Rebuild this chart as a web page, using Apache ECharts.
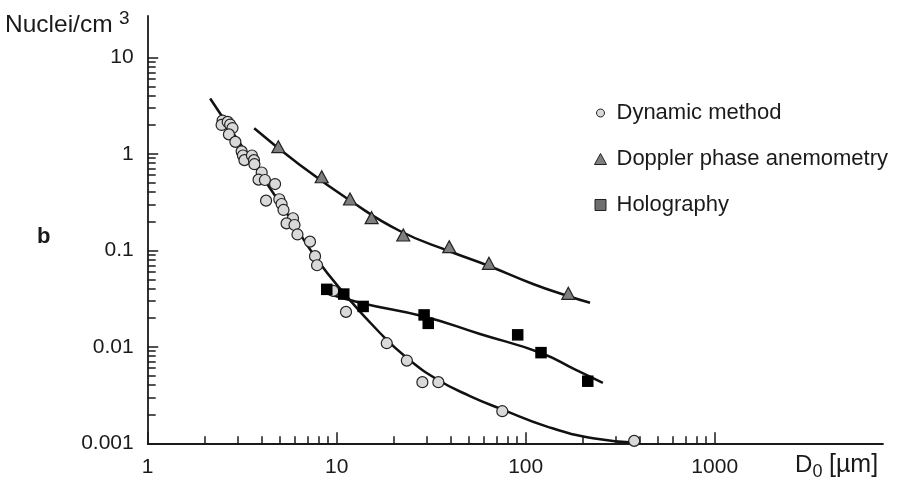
<!DOCTYPE html>
<html><head><meta charset="utf-8">
<script src="https://cdn.jsdelivr.net/npm/echarts@6/dist/echarts.min.js"></script>
<style>html,body{margin:0;padding:0;background:#fff}#c{width:907px;height:480px}</style>
</head><body><div id="c"></div>
<script>
// ---- data ----
const seriesNames = ['Dynamic method', 'Doppler phase anemometry', 'Holography'];
const dynamicPts = [[2.49,2.21],[2.46,1.99],[2.65,2.14],[2.73,2.01],[2.81,1.85],[2.69,1.59],[2.91,1.33],
  [3.14,1.06],[3.19,0.96],[3.25,0.86],[3.56,0.96],[3.65,0.86],[3.67,0.78],[4.01,0.64],[3.86,0.54],
  [4.17,0.535],[4.72,0.486],[4.23,0.327],[4.97,0.338],[5.11,0.302],[5.23,0.262],[5.87,0.215],
  [5.43,0.190],[5.98,0.183],[6.20,0.146],[7.22,0.123],[7.68,0.087],[7.87,0.070],[9.59,0.038],
  [11.2,0.023],[18.4,0.0109],[23.5,0.0072],[28.4,0.0043],[34.5,0.0043],[75.2,0.00215],[375,0.00106]];
const dopplerPts = [[4.91,1.185],[8.33,0.579],[11.76,0.340],[15.3,0.218],[22.5,0.144],[39.4,0.109],[63.9,0.0733],[168,0.0358]];
const holoPts = [[8.86,0.0394],[10.9,0.0352],[13.8,0.0262],[29.0,0.0214],[30.5,0.0175],[90.7,0.0133],[120.5,0.0087],[213,0.0044]];
const dynamicFit = [[2.14,3.74],[3.48,0.894],[5.66,0.216],[7.77,0.0832],[10.9,0.0361],[16.95,0.0139],[23.55,0.00766],
  [34.4,0.00453],[50.7,0.00309],[74.9,0.00225],[129.7,0.00149],[227,0.00113],[402,0.00101]];
const dopplerFit = [[3.66,1.84],[6.39,0.766],[11.76,0.328],[21.6,0.1585],[39.8,0.0972],[63.9,0.0688],[109.3,0.0448],[167,0.0336],[219,0.0286]];
const holoFit = [[8.57,0.0365],[13.8,0.0281],[29.0,0.0206],[57.3,0.01357],[120.5,0.00863],[182,0.00582],[256,0.00422]];

const xMajorTicks = [1, 10, 100, 1000];
const xTickLabels = ['1', '10', '100', '1000'];
const xMinorTicks = [2,3,4,5,6,7,8,9,20,30,40,50,60,70,80,90,200,300,400,500,600,700,800,900];
const yMajorTicks = [0.001, 0.01, 0.1, 1, 10];
const yTickLabels = ['0.001', '0.01', '0.1', '1', '10'];
const yMinorTicks = [0.002,0.003,0.004,0.005,0.006,0.007,0.008,0.009,0.02,0.03,0.04,0.05,0.06,0.07,0.08,0.09,
  0.2,0.3,0.4,0.5,0.6,0.7,0.8,0.9,2,3,4,5,6,7,8,9];
const xMin = 1, xMax = 7770, yMin = 0.001, yMax = 26.8;

// ---- chart ----
const FONT = 'Liberation Sans';
const INK = '#1a1a1a';
function labelFor(vals, labels) {
  return function (v) {
    let best = 0, bd = Infinity;
    vals.forEach((t, i) => { const d = Math.abs(Math.log10(v) - Math.log10(t)); if (d < bd) { bd = d; best = i; } });
    return bd < 1e-6 ? labels[best] : '';
  };
}
const chart = echarts.init(document.getElementById('c'), null, {renderer: 'canvas'});
const axisLineStyle = {color: INK, width: 1.8};
const tickStyle = {color: INK, width: 1.5};
const fitLine = {color: '#111', width: 2.5};
chart.setOption({
  animation: false,
  backgroundColor: '#fff',
  grid: {left: 147.7, right: 24, top: 16, bottom: 36.7, containLabel: false},
  xAxis: [
    {type: 'log', logBase: 10, min: xMin, max: xMax, position: 'bottom',
     axisLine: {onZero: false, lineStyle: axisLineStyle},
     axisTick: {inside: true, length: 11, lineStyle: tickStyle, customValues: xMajorTicks},
     axisLabel: {customValues: xMajorTicks, formatter: labelFor(xMajorTicks, xTickLabels), margin: 13,
       fontSize: 21, fontFamily: FONT, color: INK},
     splitLine: {show: false}, minorTick: {show: false}},
    {type: 'log', logBase: 10, min: xMin, max: xMax, position: 'bottom',
     axisLine: {show: false, onZero: false},
     axisTick: {inside: true, length: 7, lineStyle: tickStyle, customValues: xMinorTicks},
     axisLabel: {show: false}, splitLine: {show: false}}
  ],
  yAxis: [
    {type: 'log', logBase: 10, min: yMin, max: yMax, position: 'left',
     axisLine: {onZero: false, lineStyle: axisLineStyle},
     axisTick: {inside: true, length: 10.5, lineStyle: tickStyle, customValues: yMajorTicks},
     axisLabel: {customValues: yMajorTicks, formatter: labelFor(yMajorTicks, yTickLabels), margin: 14,
       fontSize: 21, fontFamily: FONT, color: INK},
     splitLine: {show: false}, minorTick: {show: false}},
    {type: 'log', logBase: 10, min: yMin, max: yMax, position: 'left',
     axisLine: {show: false, onZero: false},
     axisTick: {inside: true, length: 8, lineStyle: tickStyle, customValues: yMinorTicks},
     axisLabel: {show: false}, splitLine: {show: false}}
  ],
  legend: {
    orient: 'vertical', left: 589, top: 97, itemWidth: 17, itemHeight: 12, itemGap: 24,
    textStyle: {fontFamily: FONT, fontSize: 22, color: INK},
    selectedMode: false,
    data: [
      {name: seriesNames[0], icon: 'path://M0,0M17,12M6,2C8.21,2 10,3.79 10,6C10,8.21 8.21,10 6,10C3.79,10 2,8.21 2,6C2,3.79 3.79,2 6,2Z',
       itemStyle: {color: '#d9d9d9', borderColor: '#222', borderWidth: 1}},
      {name: seriesNames[1], icon: 'path://M0,0M17,12M6,0.5L12,11.5L0,11.5Z',
       itemStyle: {color: '#7f7f7f', borderColor: '#222', borderWidth: 1}},
      {name: seriesNames[2], icon: 'path://M0,0M17,12M0.5,0.5L11.5,0.5L11.5,11.5L0.5,11.5Z',
       itemStyle: {color: '#6e6e6e', borderColor: '#222', borderWidth: 1}}
    ]
  },
  series: [
    {type: 'line', name: 'fit-dyn', data: dynamicFit, smooth: true, showSymbol: false, symbol: 'none',
     lineStyle: fitLine, z: 2, silent: true},
    {type: 'line', name: 'fit-dop', data: dopplerFit, smooth: true, showSymbol: false, symbol: 'none',
     lineStyle: fitLine, z: 2, silent: true},
    {type: 'line', name: 'fit-holo', data: holoFit, smooth: true, showSymbol: false, symbol: 'none',
     lineStyle: fitLine, z: 2, silent: true},
    {type: 'scatter', name: seriesNames[0], data: dynamicPts, symbol: 'circle', symbolSize: 11,
     itemStyle: {color: '#d9d9d9', borderColor: '#222', borderWidth: 1.2, opacity: 1}, z: 5},
    {type: 'scatter', name: seriesNames[1], data: dopplerPts, symbol: 'triangle', symbolSize: [13, 12],
     itemStyle: {color: '#7f7f7f', borderColor: '#222', borderWidth: 1.2, opacity: 1}, z: 5},
    {type: 'scatter', name: seriesNames[2], data: holoPts, symbol: 'rect', symbolSize: 11.5,
     itemStyle: {color: '#000', opacity: 1}, z: 5}
  ],
  graphic: [
    {type: 'text', left: 5, top: 13, style: {text: 'Nuclei/cm', fontFamily: FONT, fontSize: 24.5, fill: INK}},
    {type: 'text', left: 119, top: 9, style: {text: '3', fontFamily: FONT, fontSize: 19, fill: INK}},
    {type: 'text', left: 37, top: 226, style: {text: 'b', fontFamily: FONT, fontSize: 22, fontWeight: 'bold', fill: INK}},
    {type: 'text', left: 795, top: 453, style: {text: 'D', fontFamily: FONT, fontSize: 24, fill: INK}},
    {type: 'text', left: 812.5, top: 463, style: {text: '0', fontFamily: FONT, fontSize: 18, fill: INK}},
    {type: 'text', left: 829, top: 453, style: {text: '[µm]', fontFamily: FONT, fontSize: 25, fill: INK}}
  ]
});
</script></body></html>
